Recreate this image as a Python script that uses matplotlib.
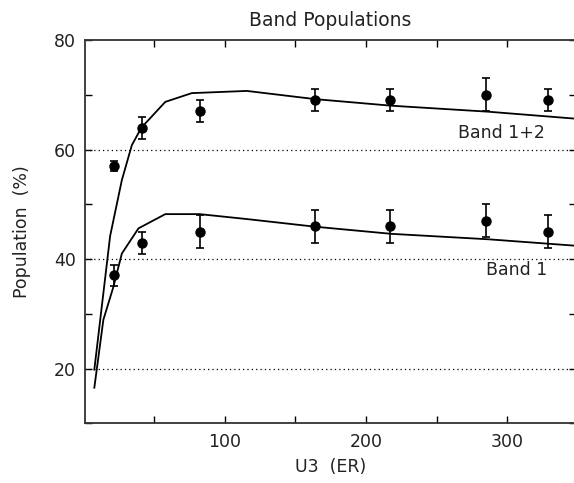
import matplotlib
matplotlib.use("Agg")
import matplotlib.pyplot as plt
from matplotlib.ticker import MultipleLocator

plt.rcParams['font.family'] = ['DejaVu Sans']

# measured points (U3 in E_R)
u3 = [21, 41, 82, 164, 217, 285, 329]
band12 = [57, 64, 67, 69, 69, 70, 69]
band12_err = [0.9, 2, 2, 2, 2, 3, 2]
band1 = [37, 43, 45, 46, 46, 47, 45]
band1_err = [2, 2, 3, 3, 3, 3, 3]

# theory curves
u3_th12 = [7.4, 18.6, 26.9, 34, 40.8, 57.7, 76.5, 115.5, 164, 218, 287, 350]
th12 = [19.8, 44.2, 54.4, 60.8, 64.0, 68.7, 70.3, 70.7, 69.2, 68.0, 66.9, 65.6]
u3_th1 = [7.4, 13.8, 20.9, 26.9, 38.7, 57.7, 82, 115.5, 164, 218, 287, 350]
th1 = [16.5, 28.9, 34.9, 41.0, 45.6, 48.2, 48.2, 47.3, 45.9, 44.6, 43.6, 42.4]

W, H = 574, 483
fig = plt.figure(figsize=(W / 100, H / 100), dpi=100)
ax = fig.add_axes([85.3 / W, (H - 423.3) / H, (575.5 - 85.3) / W, (423.3 - 40) / H])

for yg in [20, 40, 60]:
    ax.axhline(yg, color='black', lw=0.9, ls=(0, (1, 2.5)), zorder=1)

ax.plot(u3_th12, th12, color='black', lw=1.3, zorder=2)
ax.plot(u3_th1, th1, color='black', lw=1.3, zorder=2)

ax.errorbar(u3, band12, yerr=band12_err, fmt='o', color='black', ms=6.5,
            elinewidth=1.2, capsize=3, capthick=1.2, zorder=3)
ax.errorbar(u3, band1, yerr=band1_err, fmt='o', color='black', ms=6.5,
            elinewidth=1.2, capsize=3, capthick=1.2, zorder=3)

ax.text(296, 61.4, 'Band 1+2', ha='center', va='bottom', fontsize=12.5, color='#222222')
ax.text(307, 38.0, 'Band 1', ha='center', va='center', fontsize=12.5, color='#222222')

ax.set_xlim(1, 348.5)
ax.set_ylim(10, 80)
ax.xaxis.set_major_locator(MultipleLocator(100))
ax.xaxis.set_minor_locator(MultipleLocator(50))
ax.yaxis.set_major_locator(MultipleLocator(20))
ax.yaxis.set_minor_locator(MultipleLocator(10))
ax.tick_params(which='both', direction='in', top=True, right=True,
               length=5, width=1, labelsize=12.5, pad=7, labelcolor='#222222')
for s in ax.spines.values():
    s.set_linewidth(1.3)
    s.set_color('#333333')

ax.set_title('Band Populations', fontsize=13.5, pad=10, color='#222222')
ax.set_xlabel('U3  (ER)', fontsize=12.5, labelpad=5, color='#222222')
ax.set_ylabel('Population  (%)', fontsize=12.5, labelpad=16, color='#222222')

fig.savefig('out.png', dpi=100)
